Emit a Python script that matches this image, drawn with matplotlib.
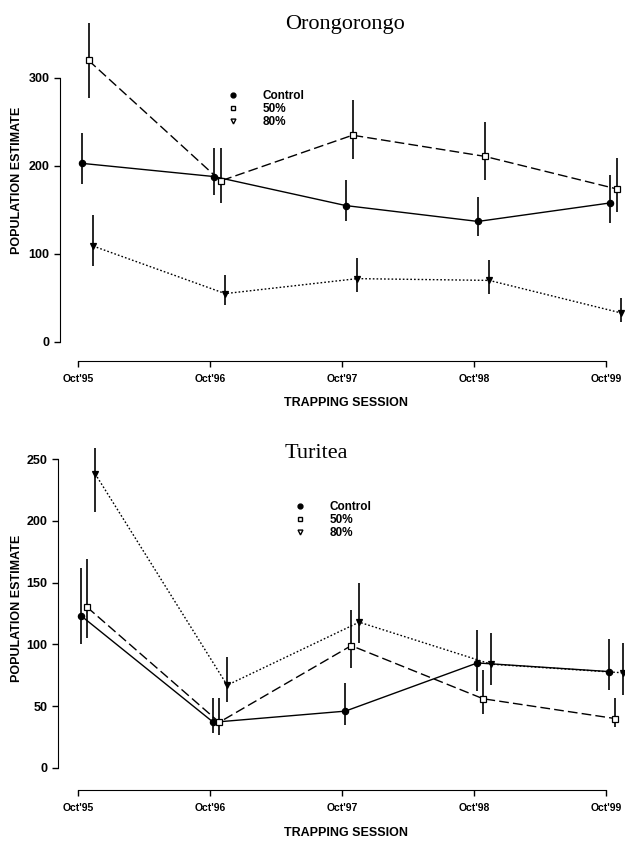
import numpy as np
import matplotlib
matplotlib.use("Agg")
import matplotlib.pyplot as plt
from matplotlib.lines import Line2D

# values
sessions = ["Oct'95", "Oct'96", "Oct'97", "Oct'98", "Oct'99"]
groups = ["Control", "50%", "80%"]

oro_control = [203, 188, 155, 137, 158]
oro_control_lo = [180, 167, 137, 120, 135]
oro_control_hi = [237, 220, 184, 165, 190]
oro_50 = [320, 183, 235, 211, 174]
oro_50_lo = [277, 158, 208, 184, 148]
oro_50_hi = [362, 220, 275, 250, 209]
oro_80 = [109, 55, 72, 70, 33]
oro_80_lo = [86, 42, 57, 55, 23]
oro_80_hi = [144, 76, 95, 93, 50]

tur_control = [123, 37, 46, 85, 78]
tur_control_lo = [100, 28, 35, 62, 63]
tur_control_hi = [162, 57, 69, 112, 104]
tur_50 = [130, 37, 99, 56, 40]
tur_50_lo = [105, 27, 81, 44, 33]
tur_50_hi = [169, 57, 128, 79, 57]
tur_80 = [238, 67, 118, 84, 77]
tur_80_lo = [207, 53, 101, 67, 59]
tur_80_hi = [259, 90, 150, 109, 101]

SANS = "Liberation Sans"
SERIF = "Liberation Serif"

styles = [
    dict(ls="-", marker="o", mfc="black", ms=4.5),
    dict(ls=(0, (7, 3)), marker="s", mfc="white", ms=4.5),
    dict(ls=(0, (1.2, 1.5)), marker="v", mfc="black", ms=5),
]


def draw_panel(ax, series, offsets, ymax, ystep, xoff):
    x = np.arange(len(sessions))
    for (mean, lo, hi), st, off in zip(series, styles, offsets):
        xs = x + off
        ax.vlines(xs, lo, hi, color="black", lw=1.2, clip_on=False)
        ax.plot(xs, mean, color="black", lw=1.0, ls=st["ls"], marker=st["marker"],
                mfc=st["mfc"], mec="black", mew=0.9, ms=st["ms"], clip_on=False)
    for s in ["top", "right"]:
        ax.spines[s].set_visible(False)
    ax.spines["left"].set_bounds(0, ymax)
    ax.spines["bottom"].set_bounds(0, len(sessions) - 1)
    ax.spines["bottom"].set_position(("outward", xoff))
    ax.set_yticks(np.arange(0, ymax + 1, ystep))
    ax.set_xticks(x)
    ax.set_xticklabels(sessions)
    ax.tick_params(axis="both", direction="out", length=4, width=1.0)
    ax.tick_params(axis="x", pad=5)
    for lab in ax.get_xticklabels():
        lab.set_fontfamily(SANS)
        lab.set_fontweight("bold")
        lab.set_fontsize(7.5)
    for lab in ax.get_yticklabels():
        lab.set_fontfamily(SANS)
        lab.set_fontweight("bold")
        lab.set_fontsize(9)


W, H = 625, 843
fig = plt.figure(figsize=(W / 100, H / 100), dpi=100)

# top panel: Orongorongo
ax1 = fig.add_axes([60 / W, 1 - 350 / H, 565 / W, 335 / H])
ax1.set_xlim(-18 / 132, 547 / 132)
ax1.set_ylim(-8 / 0.88, 327 / 0.88)
draw_panel(ax1,
           [(oro_control, oro_control_lo, oro_control_hi),
            (oro_50, oro_50_lo, oro_50_hi),
            (oro_80, oro_80_lo, oro_80_hi)],
           [0.03, 0.08, 0.115], 300, 100, 8)

# bottom panel: Turitea
ax2 = fig.add_axes([58 / W, 1 - 775 / H, 567 / W, 335 / H])
ax2.set_xlim(-20 / 132, 547 / 132)
ax2.set_ylim(-7 / 1.236, 328 / 1.236)
draw_panel(ax2,
           [(tur_control, tur_control_lo, tur_control_hi),
            (tur_50, tur_50_lo, tur_50_hi),
            (tur_80, tur_80_lo, tur_80_hi)],
           [0.025, 0.07, 0.13], 250, 50, 11)

handles = [Line2D([], [], ls="none", marker="o", color="black", ms=3.5),
           Line2D([], [], ls="none", marker="s", mfc="white", mec="black", ms=3.5),
           Line2D([], [], ls="none", marker="v", mfc="white", mec="black", ms=3.5)]
for ax, (lx, ly) in [(ax1, (227, 90)), (ax2, (294, 501))]:
    ax.legend(handles, groups, loc="upper left", bbox_to_anchor=(lx / W, 1 - ly / H),
              bbox_transform=fig.transFigure, frameon=False, handlelength=1.0,
              handletextpad=2.0, labelspacing=0.1, borderpad=0, borderaxespad=0,
              prop=dict(family=SANS, weight="bold", size=8.5))

fig.text(345 / W, 1 - 24 / H, "Orongorongo", family=SERIF, size=16,
         ha="center", va="center")
fig.text(316 / W, 1 - 453 / H, "Turitea", family=SERIF, size=16,
         ha="center", va="center")
for yc, xc in [(180, 17), (608, 17)]:
    fig.text(xc / W, 1 - yc / H, "POPULATION ESTIMATE", family=SANS, weight="bold",
             size=9, rotation=90, ha="center", va="center")
for xc, yl in [(346, 403), (346, 833)]:
    fig.text(xc / W, 1 - yl / H, "TRAPPING SESSION", family=SANS, weight="bold",
             size=9, ha="center", va="center")

fig.savefig("out.png", dpi=100)
